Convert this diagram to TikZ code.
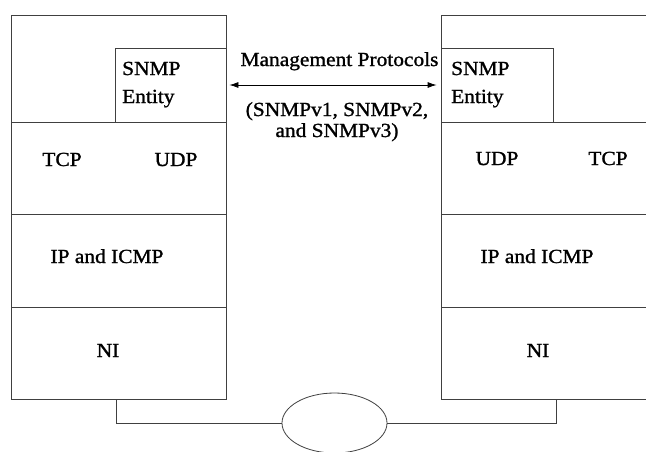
\documentclass[tikz,border=0pt]{standalone}
\usepackage{fontspec}
\setmainfont{Liberation Serif}[FakeStretch=1.07,FakeBold=1.2]
\usetikzlibrary{shapes.geometric,arrows.meta}
\definecolor{linec}{gray}{0.25}
\tikzset{
  layer/.style={draw=linec, line width=0.8pt, rectangle, inner sep=0pt,
    minimum width=#1},
  layer/.default=215pt,
  lbl/.style={anchor=base, inner sep=0pt, text=black},
  wire/.style={draw=linec, line width=0.8pt},
  mgmt/.style={draw=black, line width=0.8pt,
    {Latex[length=9pt,width=6pt]}-{Latex[length=9pt,width=6pt]},
    shorten <=3pt, shorten >=4pt}
}
\begin{document}
\begin{tikzpicture}[x=1pt,y=-1pt,font=\fontsize{20}{28}\selectfont]
\useasboundingbox (0,0) rectangle (646,451);
\fill[white] (0,0) rectangle (646,451);
\clip (0,0) rectangle (646,451);

% left protocol stack
\node[layer, minimum height=107pt] (Lapp)   at (118.5,68.5) {};
\node[layer=111pt, minimum height=74pt] (Lsnmp) at (170.5,85) {};
\node[layer, minimum height=92pt]  (Ltrans) at (118.5,168) {};
\node[layer, minimum height=93pt]  (Lip)    at (118.5,260.5) {};
\node[layer, minimum height=92pt]  (Lni)    at (118.5,353) {};

\node[lbl, anchor=base west] (LsnmpA) at (122,75)  {SNMP};
\node[lbl, anchor=base west] (LsnmpB) at (122,103) {Entity};
\node[lbl] (Ltcp) at (62,166)  {TCP};
\node[lbl] (Ludp) at (176,166) {UDP};
\node[lbl] (LipT) at (107,263) {IP and ICMP};
\node[lbl] (LniT) at (108,357) {NI};

% right protocol stack
\node[layer, minimum height=107pt] (Rapp)   at (548.5,68.5) {};
\node[layer=112pt, minimum height=74pt] (Rsnmp) at (497,85) {};
\node[layer, minimum height=92pt]  (Rtrans) at (548.5,168) {};
\node[layer, minimum height=93pt]  (Rip)    at (548.5,260.5) {};
\node[layer, minimum height=92pt]  (Rni)    at (548.5,353) {};

\node[lbl, anchor=base west] (RsnmpA) at (451,75)  {SNMP};
\node[lbl, anchor=base west] (RsnmpB) at (451,103) {Entity};
\node[lbl] (Rudp) at (497,165) {UDP};
\node[lbl] (Rtcp) at (608,165) {TCP};
\node[lbl] (RipT) at (537,263) {IP and ICMP};
\node[lbl] (RniT) at (538,357) {NI};

% management exchange between the two SNMP entities
\draw[mgmt] (Lsnmp.east) -- (Rsnmp.west);
\node[lbl] (mp)  at (339.5,66)  {Management Protocols};
\node[lbl] (v12) at (337,116)   {(SNMPv1, SNMPv2,};
\node[lbl] (v3)  at (337,137)   {and SNMPv3)};

% network cloud and attachments
\node[draw=linec, line width=0.8pt, ellipse, minimum width=105pt,
      minimum height=60pt, inner sep=0pt] (net) at (334.5,423) {};
\draw[wire] ([xshift=-2.5pt]Lni.south) |- (net.west);
\draw[wire] ([xshift=7.5pt]Rni.south) |- (net.east);
\end{tikzpicture}
\end{document}
